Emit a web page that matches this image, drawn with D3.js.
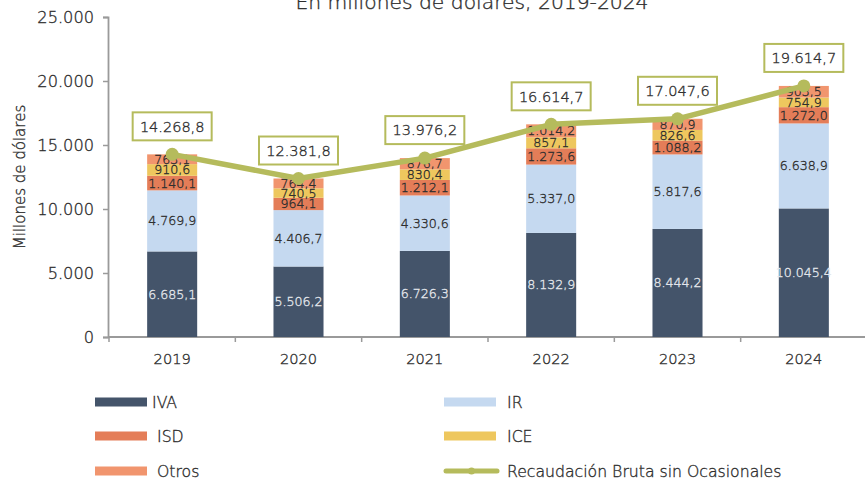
<!DOCTYPE html>
<html>
<head>
<meta charset="utf-8">
<script src="https://cdn.jsdelivr.net/npm/d3@7"></script>
<style>
  html, body { margin: 0; padding: 0; background: #fff; }
  svg { display: block; font-family: "DejaVu Sans", "Noto Sans", sans-serif; font-weight: 300; }
</style>
</head>
<body>
<svg id="chart" width="865" height="478"></svg>
<script>
// Recaudación por impuesto, millones de dólares
const years = ["2019", "2020", "2021", "2022", "2023", "2024"];
const iva   = [6685.1, 5506.2, 6726.3, 8132.9, 8444.2, 10045.4];
const ir    = [4769.9, 4406.7, 4330.6, 5337.0, 5817.6, 6638.9];
const isd   = [1140.1, 964.1, 1212.1, 1273.6, 1088.2, 1272.0];
const ice   = [910.6, 740.5, 830.4, 857.1, 826.6, 754.9];
const otros = [763.1, 764.4, 876.7, 1014.2, 870.9, 903.5];
const totalBruta = [14268.8, 12381.8, 13976.2, 16614.7, 17047.6, 19614.7];
const yTicks = [0, 5000, 10000, 15000, 20000, 25000];

const seriesNames = ["IVA", "IR", "ISD", "ICE", "Otros"];
const seriesValues = [iva, ir, isd, ice, otros];
const colors = ["#44546A", "#C5D9F0", "#E47D58", "#EEC75E", "#F1956E"];
const lineName = "Recaudación Bruta sin Ocasionales";
const lineColor = "#B5BB5C";
const textColor = "#2e2e2e";
const fontFamily = '"DejaVu Sans", "Noto Sans", sans-serif';

const locale = d3.formatLocale({ decimal: ",", thousands: ".", grouping: [3], currency: ["$", ""] });
const fmt1 = locale.format(",.1f");
const fmt0 = locale.format(",.0f");

const svg = d3.select("#chart");
const W = 865;

const x = d3.scaleBand().domain(years).range([109, 867]).paddingInner(0.604).paddingOuter(0.302);
const y = d3.scaleLinear().domain([0, 25000]).range([337, 17]);
const cx = yr => x(yr) + x.bandwidth() / 2;

// rows for stacking
const rows = years.map((yr, i) => {
  const r = { year: yr };
  seriesNames.forEach((n, k) => r[n] = seriesValues[k][i]);
  return r;
});
const stacked = d3.stack().keys(seriesNames)(rows);

// title
svg.append("text")
  .attr("x", 472).attr("y", 9)
  .attr("text-anchor", "middle")
  .attr("font-size", 20.3).attr("fill", textColor)
  .text("En millones de dólares, 2019-2024");

// y axis
const yAxis = svg.append("g")
  .attr("transform", "translate(108,0)")
  .call(d3.axisLeft(y).tickValues(yTicks).tickFormat(fmt0).tickSize(5).tickPadding(9))
  .attr("font-family", fontFamily);
yAxis.selectAll("text")
  .attr("font-size", 16.2).attr("fill", textColor)
  .attr("font-family", fontFamily).attr("font-weight", 300);
yAxis.selectAll("line").attr("stroke", "#9a9a9a").attr("stroke-width", 1.5);
yAxis.select(".domain").attr("stroke", "#9a9a9a").attr("stroke-width", 1.8);

svg.append("text")
  .attr("transform", "translate(25,177) rotate(-90)")
  .attr("text-anchor", "middle")
  .attr("font-size", 15).attr("fill", textColor)
  .text("Millones de dólares");

// x axis with boundary ticks
const xg = svg.append("g").attr("transform", `translate(0,${y(0)})`);
xg.append("line").attr("x1", 108).attr("x2", W).attr("stroke", "#9a9a9a").attr("stroke-width", 1.8);
const bandStart = x.range()[0];
years.forEach((yr, i) => {
  const bx = bandStart + i * x.step();
  xg.append("line").attr("x1", bx).attr("x2", bx).attr("y1", 0).attr("y2", 5)
    .attr("stroke", "#9a9a9a").attr("stroke-width", 1.5);
});
xg.selectAll("text.year").data(years).join("text")
  .attr("class", "year")
  .attr("x", d => cx(d))
  .attr("y", 27)
  .attr("text-anchor", "middle")
  .attr("font-size", 14.6).attr("fill", textColor)
  .text(d => d);

// stacked bars
const layers = svg.append("g").selectAll("g").data(stacked).join("g")
  .attr("fill", (d, i) => colors[i]);
layers.selectAll("rect").data(d => d).join("rect")
  .attr("x", d => x(d.data.year))
  .attr("width", x.bandwidth())
  .attr("y", d => y(d[1]))
  .attr("height", d => y(d[0]) - y(d[1]));

// segment labels
const labelG = svg.append("g");
stacked.forEach((layer, k) => {
  labelG.selectAll(null).data(layer).join("text")
    .attr("x", d => cx(d.data.year))
    .attr("y", d => (y(d[0]) + y(d[1])) / 2)
    .attr("dy", "0.36em")
    .attr("text-anchor", "middle")
    .attr("font-size", 12.6)
    .attr("fill", k === 0 ? "#e3e6eb" : textColor)
    .text(d => fmt1(d[1] - d[0]));
});

// total line
const line = d3.line().x((d, i) => cx(years[i])).y(d => y(d));
svg.append("path").datum(totalBruta)
  .attr("d", line).attr("fill", "none")
  .attr("stroke", lineColor).attr("stroke-width", 5.5).attr("stroke-linejoin", "round");
svg.append("g").selectAll("circle").data(totalBruta).join("circle")
  .attr("cx", (d, i) => cx(years[i]))
  .attr("cy", d => y(d))
  .attr("r", 6.5).attr("fill", lineColor);

// total labels in boxes
const boxW = 79, boxH = 28;
const boxes = svg.append("g").selectAll("g").data(totalBruta).join("g")
  .attr("transform", (d, i) => `translate(${cx(years[i])},${y(d) - 28})`);
boxes.append("rect")
  .attr("x", -boxW / 2).attr("y", -boxH / 2).attr("width", boxW).attr("height", boxH)
  .attr("fill", "#fff").attr("stroke", lineColor).attr("stroke-width", 2);
boxes.append("text")
  .attr("text-anchor", "middle").attr("dy", "0.36em")
  .attr("font-size", 14.5).attr("fill", textColor)
  .text(d => fmt1(d));

// legend
const legendItems = [
  { name: "IVA", color: colors[0], type: "rect", x: 95, y: 402, tx: 57 },
  { name: "IR", color: colors[1], type: "rect", x: 444, y: 402, tx: 63 },
  { name: "ISD", color: colors[2], type: "rect", x: 95, y: 436, tx: 62 },
  { name: "ICE", color: colors[3], type: "rect", x: 444, y: 436, tx: 63 },
  { name: "Otros", color: colors[4], type: "rect", x: 95, y: 471, tx: 62 },
  { name: lineName, color: lineColor, type: "line", x: 444, y: 471, tx: 63 }
];
const lg = svg.append("g").selectAll("g").data(legendItems).join("g")
  .attr("transform", d => `translate(${d.x},${d.y})`);
lg.filter(d => d.type === "rect").append("rect")
  .attr("x", 0).attr("y", -4.5).attr("width", 52).attr("height", 9)
  .attr("fill", d => d.color);
lg.filter(d => d.type === "line").append("line")
  .attr("x1", 2).attr("x2", 53).attr("stroke", d => d.color).attr("stroke-width", 5)
  .attr("stroke-linecap", "round");
lg.filter(d => d.type === "line").append("circle")
  .attr("cx", 27.5).attr("r", 3.5).attr("fill", d => d.color);
lg.append("text")
  .attr("x", d => d.tx)
  .attr("dy", "0.36em")
  .attr("font-size", 15.7).attr("fill", textColor)
  .text(d => d.name);

// a hairline outline in the fill colour gives the light face a little more body
svg.selectAll("text").each(function () {
  const t = d3.select(this);
  t.attr("stroke", t.attr("fill")).attr("stroke-width", 0.35);
});
</script>
</body>
</html>
